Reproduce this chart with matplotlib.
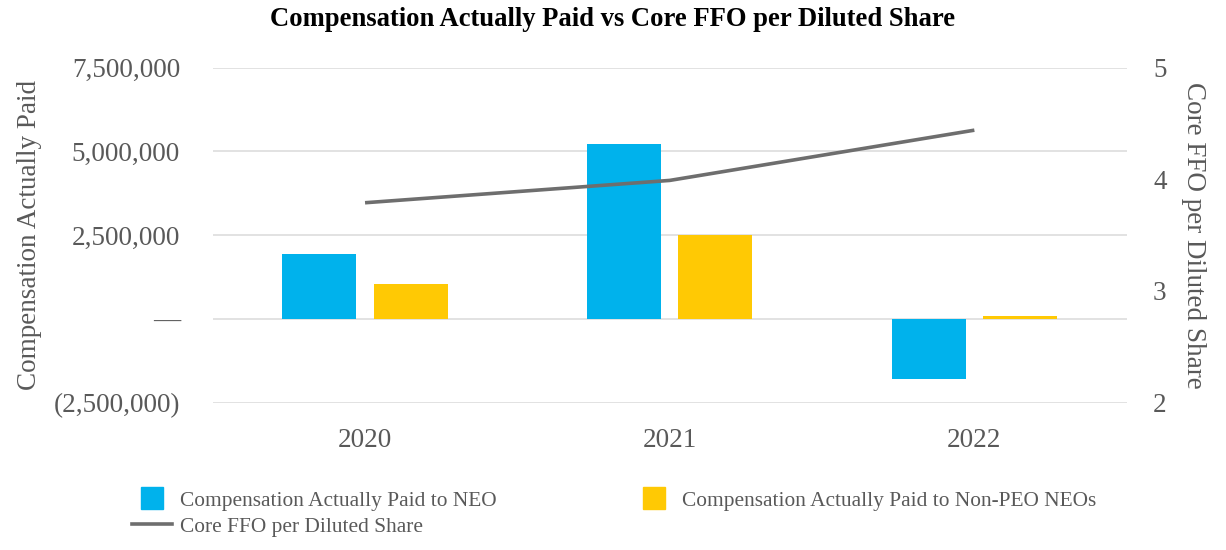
import matplotlib
matplotlib.use("Agg")
import matplotlib.pyplot as plt
from matplotlib.lines import Line2D
from matplotlib.ticker import FuncFormatter, FixedLocator
import numpy as np

years = ["2020", "2021", "2022"]
cap_neo = [1950000, 5230000, -1810000]
cap_non_peo = [1050000, 2490000, 100000]
core_ffo = [3.79, 3.99, 4.44]

left_ticks = [-2500000, 0, 2500000, 5000000, 7500000]
right_ticks = [2, 3, 4, 5]

BLUE = "#00B2EC"
YELLOW = "#FFC904"
GRAY_LINE = "#6E6E6E"
TXT = "#595959"

plt.rcParams['font.family'] = ['Liberation Serif', 'DejaVu Serif']

fig = plt.figure(figsize=(12.26, 5.5), dpi=100)
ax = fig.add_axes([0.1735, 0.268, 0.7455, 0.609])
ax2 = ax.twinx()

x = np.arange(len(years))
w = 0.243
off = 0.150
ax.bar(x - off, cap_neo, width=w, color=BLUE, zorder=3)
ax.bar(x + off, cap_non_peo, width=w, color=YELLOW, zorder=3)
ax.set_xlim(-0.5, 2.5)
ax.set_ylim(-2500000, 7500000)
ax.yaxis.set_major_locator(FixedLocator(left_ticks))

def fmt(v, pos):
    if abs(v) < 1:
        return "\u2014"
    if v < 0:
        return "({:,.0f})".format(-v)
    return "{:,.0f}".format(v)

ax.yaxis.set_major_formatter(FuncFormatter(fmt))
ax.grid(axis='y', color='#DDDDDD', linewidth=1.2, zorder=0)
ax.set_axisbelow(True)

ax2.plot(x, core_ffo, color=GRAY_LINE, linewidth=2.6, solid_capstyle='butt', zorder=4)
ax2.set_ylim(2, 5)
ax2.yaxis.set_major_locator(FixedLocator(right_ticks))

for a in (ax, ax2):
    for s in a.spines.values():
        s.set_visible(False)
    a.tick_params(length=0, labelsize=19.5, colors=TXT)

ax.set_xticks(x)
ax.set_xticklabels(years)
ax.tick_params(axis='x', pad=18)
ax.tick_params(axis='y', pad=23.5)
ax2.tick_params(axis='y', pad=19)

ax.set_ylabel("Compensation Actually Paid", fontsize=19.5, color=TXT, labelpad=8)
ax2.set_ylabel("Core FFO per Diluted Share", fontsize=19.5, color=TXT, rotation=270, labelpad=28)

fig.suptitle("Compensation Actually Paid vs Core FFO per Diluted Share",
             fontsize=19.2, fontweight='bold', y=0.9875, x=0.4996, color='black')

h_neo = Line2D([], [], marker='s', linestyle='none', markersize=16, color=BLUE)
h_non = Line2D([], [], marker='s', linestyle='none', markersize=16, color=YELLOW)
h_ffo = Line2D([], [], color=GRAY_LINE, linewidth=2.6)
leg = fig.legend([h_neo, h_ffo, h_non],
                 ["Compensation Actually Paid to NEO", "Core FFO per Diluted Share",
                  "Compensation Actually Paid to Non-PEO NEOs"],
                 ncol=2, loc='upper left', bbox_to_anchor=(132/1226, 1 - 491/550),
                 frameon=False, fontsize=15.4, handlelength=1.87, handletextpad=0.37,
                 columnspacing=6.45, labelspacing=0.28, borderaxespad=0, borderpad=0)
for t in leg.get_texts():
    t.set_color(TXT)

fig.savefig("out.png", dpi=100)
